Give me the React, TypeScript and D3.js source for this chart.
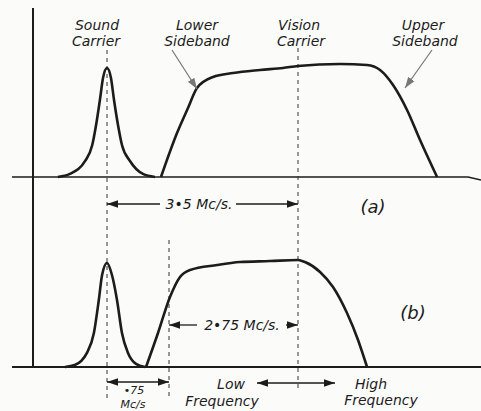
import { useEffect, useRef } from 'react'
import * as d3 from 'd3'

// Frequencies in Mc/s relative to the vision carrier; amplitude relative to the plateau
const SOUND_A_F = [-4.4, -4.18, -3.9, -3.77, -3.7, -3.63, -3.573, -3.5, -3.452, -3.415, -3.367, -3.319, -3.222, -3.065, -2.92]
const SOUND_A_AMP = [0, 0.027, 0.142, 0.283, 0.46, 0.681, 0.876, 0.965, 0.876, 0.681, 0.46, 0.283, 0.142, 0.027, 0]

const VISION_A_F = [-2.847, -2.579, -2.345, -2.153, -1.812, -1.385, -0.81, -0.32, 0, 0.769, 1.264, 1.502, 1.74, 1.996, 2.234, 2.546]
const VISION_A_AMP = [0, 0.389, 0.611, 0.788, 0.885, 0.92, 0.947, 0.965, 0.982, 1.0, 0.991, 0.947, 0.814, 0.593, 0.327, 0]

const SOUND_B_F = [-4.27, -4.09, -3.87, -3.74, -3.65, -3.59, -3.5, -3.44, -3.379, -3.319, -3.246, -3.149, -3.04]
const SOUND_B_AMP = [0, 0.018, 0.128, 0.312, 0.615, 0.844, 0.954, 0.844, 0.615, 0.312, 0.128, 0.028, 0]

const VISION_B_F = [-3.028, -2.883, -2.729, -2.515, -2.302, -1.727, -1.236, -0.597, 0, 0.128, 0.403, 0.641, 0.897, 1.099, 1.264]
const VISION_B_AMP = [0, 0.312, 0.642, 0.826, 0.89, 0.936, 0.963, 0.972, 0.982, 0.963, 0.872, 0.734, 0.495, 0.248, 0]

const SOUND_CARRIER = -3.5
const VISION_CARRIER = 0
const CUTOFF = -2.75

export default function App() {
  const svgRef = useRef<SVGSVGElement>(null)

  useEffect(() => {
    if (!svgRef.current) return
    const svg = d3.select(svgRef.current)
    svg.selectAll('*').remove()

    const width = 481
    const height = 411

    // the drawing is not to scale, so a piecewise scale keeps the marked gaps where they are drawn
    const x = d3.scaleLinear()
      .domain([-5.24, SOUND_CARRIER, CUTOFF, VISION_CARRIER, 3.35])
      .range([12, 107, 169, 298, 481])
    const yTop = d3.scaleLinear().domain([0, 1]).range([177, 64])
    const yBot = d3.scaleLinear().domain([0, 1]).range([367, 258])

    const font = "'DejaVu Sans', sans-serif"
    const ink = '#1c1c1c'

    svg.append('rect').attr('width', width).attr('height', height).attr('fill', '#fbfbfa')

    const defs = svg.append('defs')
    const mk = (id: string, color: string, size: number) => {
      defs.append('marker')
        .attr('id', id)
        .attr('viewBox', '0 0 10 10')
        .attr('refX', 10).attr('refY', 5)
        .attr('markerWidth', size).attr('markerHeight', size)
        .attr('markerUnits', 'userSpaceOnUse')
        .attr('orient', 'auto-start-reverse')
        .append('path')
        .attr('d', 'M0,1.5 L10,5 L0,8.5 Z')
        .attr('fill', color)
    }
    mk('arr', ink, 11)
    mk('arrGray', '#777', 11)

    // axes
    svg.append('line').attr('x1', 33).attr('x2', 33).attr('y1', 8).attr('y2', 368)
      .attr('stroke', ink).attr('stroke-width', 2)
    svg.append('path')
      .attr('d', `M12,${yTop(0)} L468,${yTop(0)} L481,${yTop(0) + 3}`)
      .attr('fill', 'none').attr('stroke', ink).attr('stroke-width', 1.5)
    svg.append('line').attr('x1', 12).attr('x2', 481).attr('y1', yBot(0)).attr('y2', yBot(0))
      .attr('stroke', ink).attr('stroke-width', 1.8)

    // carrier guide lines
    const dashed = (xv: number, y1: number, y2: number) =>
      svg.append('line').attr('x1', x(xv)).attr('x2', x(xv)).attr('y1', y1).attr('y2', y2)
        .attr('stroke', '#333').attr('stroke-width', 1).attr('stroke-dasharray', '4,4')
    dashed(SOUND_CARRIER, 50, 398)
    dashed(VISION_CARRIER, 48, 388)
    dashed(CUTOFF, 240, 398)

    // curves
    const line = (ys: d3.ScaleLinear<number, number>) =>
      d3.line<[number, number]>().x(d => x(d[0])).y(d => ys(d[1])).curve(d3.curveMonotoneX)
    const curves: [number[], number[], d3.ScaleLinear<number, number>][] = [
      [SOUND_A_F, SOUND_A_AMP, yTop],
      [VISION_A_F, VISION_A_AMP, yTop],
      [SOUND_B_F, SOUND_B_AMP, yBot],
      [VISION_B_F, VISION_B_AMP, yBot],
    ]
    curves.forEach(([fs, as, ys]) => {
      svg.append('path')
        .attr('d', line(ys)(fs.map((f, i) => [f, as[i]] as [number, number])))
        .attr('fill', 'none').attr('stroke', ink).attr('stroke-width', 2.6)
        .attr('stroke-linejoin', 'round')
    })

    const text = (t: string, tx: number, ty: number, size = 14, anchor = 'middle') =>
      svg.append('text').attr('x', tx).attr('y', ty).text(t)
        .attr('font-family', font).attr('font-style', 'italic')
        .attr('font-size', size).attr('fill', ink).attr('text-anchor', anchor)

    // top labels
    text('Sound', 97, 30)
    text('Carrier', 96, 46)
    text('Lower', 197, 30)
    text('Sideband', 197, 46)
    text('Vision', 299, 30)
    text('Carrier', 301, 46)
    text('Upper', 423, 30)
    text('Sideband', 425, 46)

    // pointer arrows
    svg.append('line').attr('x1', 172).attr('y1', 50).attr('x2', 197).attr('y2', 89)
      .attr('stroke', '#777').attr('stroke-width', 1.2).attr('marker-end', 'url(#arrGray)')
    svg.append('line').attr('x1', 432).attr('y1', 50).attr('x2', 405).attr('y2', 88)
      .attr('stroke', '#777').attr('stroke-width', 1.2).attr('marker-end', 'url(#arrGray)')

    const dim = (x1: number, x2: number, y: number, start: boolean, end: boolean) => {
      const l = svg.append('line').attr('x1', x1).attr('x2', x2).attr('y1', y).attr('y2', y)
        .attr('stroke', ink).attr('stroke-width', 1.3)
      if (start) l.attr('marker-start', 'url(#arr)')
      if (end) l.attr('marker-end', 'url(#arr)')
    }

    // 3.5 Mc/s
    dim(x(SOUND_CARRIER), 160, 204, true, false)
    dim(236, x(VISION_CARRIER), 204, false, true)
    text('3•5 Mc/s.', 199, 209, 14)
    text('(a)', 373, 213, 18)

    // 2.75 Mc/s
    dim(x(CUTOFF), 197, 325, true, false)
    dim(286, x(VISION_CARRIER), 325, false, true)
    text('2•75 Mc/s.', 242, 330, 14)
    text('(b)', 413, 319, 18)

    // .75 Mc/s
    dim(x(SOUND_CARRIER), x(CUTOFF), 382, true, true)
    text('•75', 134, 394, 11)
    text('Mc/s', 133, 408, 11)

    // low / high frequency
    dim(257, 335, 383, true, true)
    text('Low', 231, 389)
    text('Frequency', 222, 406)
    text('High', 371, 389)
    text('Frequency', 381, 405)
  }, [])

  return (
    <div style={{ position: 'absolute', left: 0, top: 0 }}>
      <svg ref={svgRef} width={481} height={411} style={{ display: 'block' }} />
    </div>
  )
}
